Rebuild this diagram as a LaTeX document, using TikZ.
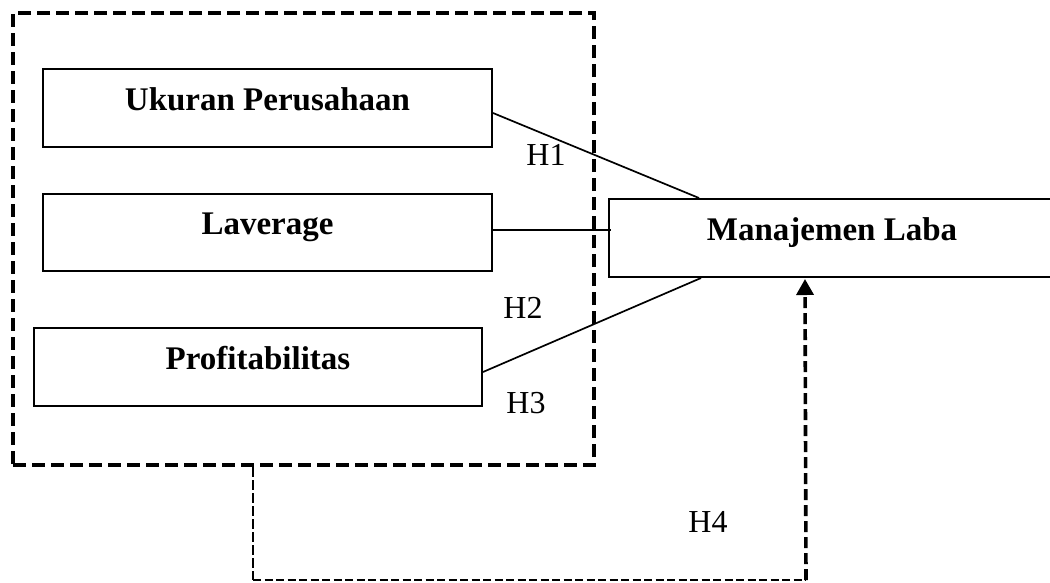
\documentclass[tikz,border=0pt]{standalone}
\usepackage{fontspec}
\setmainfont{Liberation Serif}
\usetikzlibrary{arrows.meta}
\begin{document}
\begin{tikzpicture}[x=1pt,y=-1pt,
  varbox/.style={draw,line width=2pt,rectangle,inner sep=0pt,
    minimum height=78pt,text height=22pt,text depth=18pt,
    font=\fontsize{33}{38}\selectfont\bfseries},
  hlab/.style={anchor=base,inner sep=0pt,font=\fontsize{32}{36}\selectfont},
  grpstyle/.style={draw,line width=4pt,dash pattern=on 13pt off 6pt,
    rectangle,inner sep=0pt,minimum width=581pt,minimum height=452pt},
  link/.style={line width=1.7pt},
  thindash/.style={line width=2pt,dash pattern=on 8pt off 3.5pt},
  middash/.style={line width=2.6pt,dash pattern=on 10pt off 3pt},
  thickdash/.style={line width=3.6pt,dash pattern=on 11pt off 5pt}]
\useasboundingbox (0,0) rectangle (1050,582);
\clip (0,0) rectangle (1050,582);
\fill[white] (0,0) rectangle (1050,582);
\node[grpstyle] (grp) at (303.5,239) {};
\node[varbox,minimum width=449pt] (uk) at (267.5,108) {Ukuran Perusahaan};
\node[varbox,minimum width=449pt,minimum height=77pt] (lv) at (267.5,232.5) {Laverage};
\node[varbox,minimum width=448pt] (pr) at (258,367) {Profitabilitas};
\node[varbox,minimum width=446pt] (ml) at (832,238) {Manajemen Laba};
\coordinate (la) at ([yshift=2.5pt]lv.east);
\draw[link] ([yshift=-5pt]uk.east) -- ([xshift=91pt]ml.north west);
\draw[link] (la) -- ([xshift=3pt]la -| ml.west);
\draw[link] ([yshift=-5pt]pr.east) -- ([xshift=93pt]ml.south west);
\node[hlab] (h1) at (546,165) {H1};
\node[hlab] (h2) at (523,318) {H2};
\node[hlab] (h3) at (526,413) {H3};
\node[hlab] (h4) at (708,532) {H4};
\coordinate (c0) at ([xshift=-50.5pt]grp.south);
\coordinate (c1) at (253,580);
\coordinate (c2) at (806,580);
\draw[middash] (c0) -- (c1);
\draw[thindash] (c1) -- (c2);
\draw[thickdash,-{Triangle[length=16pt,width=17pt]}] (c2) -- ([xshift=197pt,yshift=-1pt]ml.south west);
\end{tikzpicture}
\end{document}
